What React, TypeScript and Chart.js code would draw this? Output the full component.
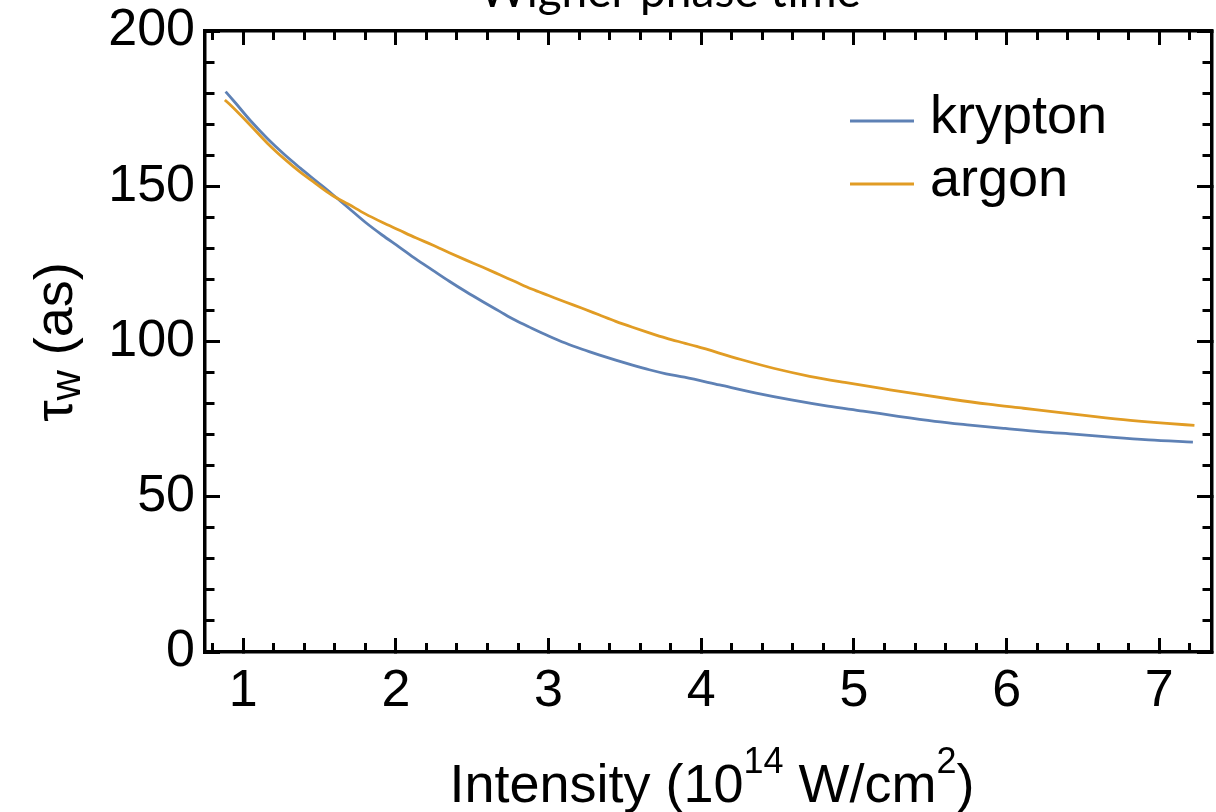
import React, { useEffect, useRef } from 'react';
import { Chart, registerables } from 'chart.js';

Chart.register(...registerables);

const TITLE = 'Wigner phase time';
const SERIES_LABELS = ['krypton', 'argon'];
const SERIES_COLORS = ['#5E81B5', '#E19C24'];

const kryptonX = [0.885, 0.95, 1.05, 1.16, 1.27, 1.37, 1.48, 1.58, 1.69, 1.80, 1.91, 2.02, 2.13, 2.24, 2.35, 2.46, 2.57, 2.68, 2.78, 2.89, 3.00, 3.11, 3.22, 3.33, 3.44, 3.55, 3.66, 3.77, 3.89, 4.12, 4.36, 4.59, 4.83, 5.06, 5.29, 5.53, 5.76, 5.99, 6.23, 6.46, 6.70, 6.93, 7.22];
const kryptonY = [180.5, 176.8, 171.0, 165.3, 160.2, 156.0, 151.6, 147.6, 143.0, 138.4, 134.3, 130.5, 126.6, 123.0, 119.4, 116.0, 112.8, 109.7, 106.9, 104.3, 101.8, 99.5, 97.5, 95.7, 94.0, 92.4, 90.9, 89.6, 88.5, 86.0, 83.4, 81.2, 79.2, 77.6, 75.9, 74.3, 73.1, 72.0, 70.9, 70.1, 69.1, 68.3, 67.6];

const argonX = [0.88, 0.92, 1.05, 1.16, 1.27, 1.37, 1.48, 1.58, 1.69, 1.80, 1.91, 2.02, 2.13, 2.24, 2.35, 2.46, 2.57, 2.68, 2.78, 2.89, 3.00, 3.11, 3.22, 3.33, 3.44, 3.55, 3.66, 3.77, 3.88, 3.97, 4.26, 4.48, 4.71, 4.94, 5.18, 5.41, 5.64, 5.88, 6.11, 6.34, 6.58, 6.81, 7.05, 7.23];
const argonY = [177.8, 176.0, 169.5, 163.8, 158.8, 154.7, 150.7, 147.2, 144.2, 141.1, 138.4, 135.9, 133.4, 131.1, 128.6, 126.2, 123.9, 121.5, 119.3, 116.9, 114.8, 112.7, 110.7, 108.6, 106.5, 104.6, 102.8, 101.1, 99.6, 98.4, 94.2, 91.3, 88.8, 86.8, 84.9, 83.1, 81.4, 79.8, 78.5, 77.2, 75.8, 74.6, 73.6, 73.0];

const xMajorTicks = [1, 2, 3, 4, 5, 6, 7];
const xMinorTicks = [0.8, 1.0, 1.2, 1.4, 1.6, 1.8, 2.0, 2.2, 2.4, 2.6, 2.8, 3.0, 3.2, 3.4, 3.6, 3.8, 4.0, 4.2, 4.4, 4.6, 4.8, 5.0, 5.2, 5.4, 5.6, 5.8, 6.0, 6.2, 6.4, 6.6, 6.8, 7.0, 7.2];
const yMajorTicks = [0, 50, 100, 150, 200];
const yMinorTicks = [0, 10, 20, 30, 40, 50, 60, 70, 80, 90, 100, 110, 120, 130, 140, 150, 160, 170, 180, 190, 200];

const X_MIN = 0.75;
const X_MAX = 7.345;
const Y_MIN = 0;
const Y_MAX = 200;

const FONT = 'Liberation Sans';

type Seg = { t: string; s: number; dy?: number; f?: string };

function drawRich(ctx: CanvasRenderingContext2D, segs: Seg[], cx: number, baseY: number) {
  let total = 0;
  const widths = segs.map((sg) => {
    ctx.font = `${sg.s}px "${sg.f || FONT}"`;
    const w = ctx.measureText(sg.t).width;
    total += w;
    return w;
  });
  let x = cx - total / 2;
  ctx.textAlign = 'left';
  ctx.textBaseline = 'alphabetic';
  segs.forEach((sg, i) => {
    ctx.font = `${sg.s}px "${sg.f || FONT}"`;
    ctx.fillText(sg.t, x, baseY + (sg.dy || 0));
    x += widths[i];
  });
}

const textPlugin = {
  id: 'textPlugin',
  afterDraw(chart: any) {
    const ctx: CanvasRenderingContext2D = chart.ctx;
    ctx.save();
    ctx.fillStyle = '#000';

    // chart title (cut off at the top edge)
    ctx.font = '46px Lato';
    ctx.textAlign = 'center';
    ctx.textBaseline = 'alphabetic';
    ctx.fillText(TITLE, 670, 7);

    // x axis title
    drawRich(ctx, [
      { t: 'Intensity (10', s: 54 },
      { t: '14', s: 36, dy: -29 },
      { t: ' W/cm', s: 54 },
      { t: '2', s: 36, dy: -29 },
      { t: ')', s: 54 },
    ], 712, 802);

    // y axis title (rotated)
    ctx.save();
    ctx.translate(72, 342);
    ctx.rotate(-Math.PI / 2);
    drawRich(ctx, [
      { t: 'τ', s: 54 },
      { t: 'w', s: 42, dy: 8 },
      { t: ' (as)', s: 54 },
    ], 0, 0);
    ctx.restore();

    // legend
    chart.data.datasets.forEach((ds: any, i: number) => {
      const y = 121 + i * 63;
      ctx.strokeStyle = ds.borderColor;
      ctx.lineWidth = 3;
      ctx.beginPath();
      ctx.moveTo(850, y);
      ctx.lineTo(914, y);
      ctx.stroke();
      ctx.font = `54px "${FONT}"`;
      ctx.textAlign = 'left';
      ctx.textBaseline = 'alphabetic';
      ctx.fillText(ds.label, 930, y + 12);
    });
    ctx.restore();
  },
};

function makeAxis(opts: {
  axis: 'x' | 'y';
  position: 'left' | 'right' | 'top' | 'bottom';
  ticksArr: number[];
  tickLength: number;
  labels: boolean;
  padding?: number;
  size: number;
  weight: number;
  border: boolean;
}) {
  const isX = opts.axis === 'x';
  return {
    type: 'linear',
    axis: opts.axis,
    position: opts.position,
    min: isX ? X_MIN : Y_MIN,
    max: isX ? X_MAX : Y_MAX,
    bounds: 'data',
    weight: opts.weight,
    afterBuildTicks: (s: any) => {
      s.ticks = opts.ticksArr.map((v) => ({ value: v }));
    },
    afterFit: (s: any) => {
      if (isX) s.height = opts.size;
      else s.width = opts.size;
      s.paddingTop = 0;
      s.paddingBottom = 0;
      s.paddingLeft = 0;
      s.paddingRight = 0;
    },
    ticks: {
      display: opts.labels,
      autoSkip: false,
      maxRotation: 0,
      padding: opts.padding ?? 0,
      color: '#000',
      font: { family: FONT, size: 52, lineHeight: 1 },
      callback: (v: any) => String(v),
    },
    grid: {
      drawOnChartArea: false,
      drawTicks: true,
      tickLength: opts.tickLength,
      tickWidth: 3,
      tickColor: '#000',
    },
    border: { display: opts.border, width: 3.5, color: '#000' },
    title: { display: false },
  };
}

export default function App() {
  const ref = useRef<HTMLCanvasElement | null>(null);

  useEffect(() => {
    if (!ref.current) return;
    const chart = new Chart(ref.current, {
      type: 'line',
      data: {
        datasets: [
          {
            label: SERIES_LABELS[0],
            data: kryptonX.map((x, i) => ({ x, y: kryptonY[i] })),
            borderColor: SERIES_COLORS[0],
            backgroundColor: SERIES_COLORS[0],
            borderWidth: 2.8,
            pointRadius: 0,
            cubicInterpolationMode: 'monotone',
            xAxisID: 'x',
            yAxisID: 'y',
            order: 1,
          },
          {
            label: SERIES_LABELS[1],
            data: argonX.map((x, i) => ({ x, y: argonY[i] })),
            borderColor: SERIES_COLORS[1],
            backgroundColor: SERIES_COLORS[1],
            borderWidth: 2.8,
            pointRadius: 0,
            cubicInterpolationMode: 'monotone',
            xAxisID: 'x',
            yAxisID: 'y',
            order: 0,
          },
        ],
      },
      options: {
        responsive: false,
        animation: false,
        devicePixelRatio: 1,
        layout: { padding: 0 },
        plugins: {
          legend: { display: false },
          tooltip: { enabled: false },
          title: { display: false },
        },
        scales: {
          x: makeAxis({ axis: 'x', position: 'bottom', ticksArr: xMajorTicks, tickLength: -14, labels: true, padding: 28, size: 160, weight: 1, border: true }),
          xm: makeAxis({ axis: 'x', position: 'bottom', ticksArr: xMinorTicks, tickLength: -9, labels: false, size: 0, weight: 0, border: false }),
          x2: makeAxis({ axis: 'x', position: 'top', ticksArr: xMajorTicks, tickLength: -14, labels: false, size: 31, weight: 1, border: true }),
          x2m: makeAxis({ axis: 'x', position: 'top', ticksArr: xMinorTicks, tickLength: -9, labels: false, size: 0, weight: 0, border: false }),
          y: makeAxis({ axis: 'y', position: 'left', ticksArr: yMajorTicks, tickLength: -15, labels: true, padding: 25, size: 205, weight: 1, border: true }),
          ym: makeAxis({ axis: 'y', position: 'left', ticksArr: yMinorTicks, tickLength: -9.5, labels: false, size: 0, weight: 0, border: false }),
          y2: makeAxis({ axis: 'y', position: 'right', ticksArr: yMajorTicks, tickLength: -15, labels: false, size: 4, weight: 1, border: true }),
          y2m: makeAxis({ axis: 'y', position: 'right', ticksArr: yMinorTicks, tickLength: -9.5, labels: false, size: 0, weight: 0, border: false }),
        } as any,
      },
      plugins: [textPlugin],
    } as any);
    return () => chart.destroy();
  }, []);

  return (
    <div style={{ position: 'fixed', left: 0, top: 0, width: 1216, height: 812, background: '#fff' }}>
      <canvas ref={ref} width={1216} height={812} style={{ display: 'block', width: 1216, height: 812 }} />
    </div>
  );
}
